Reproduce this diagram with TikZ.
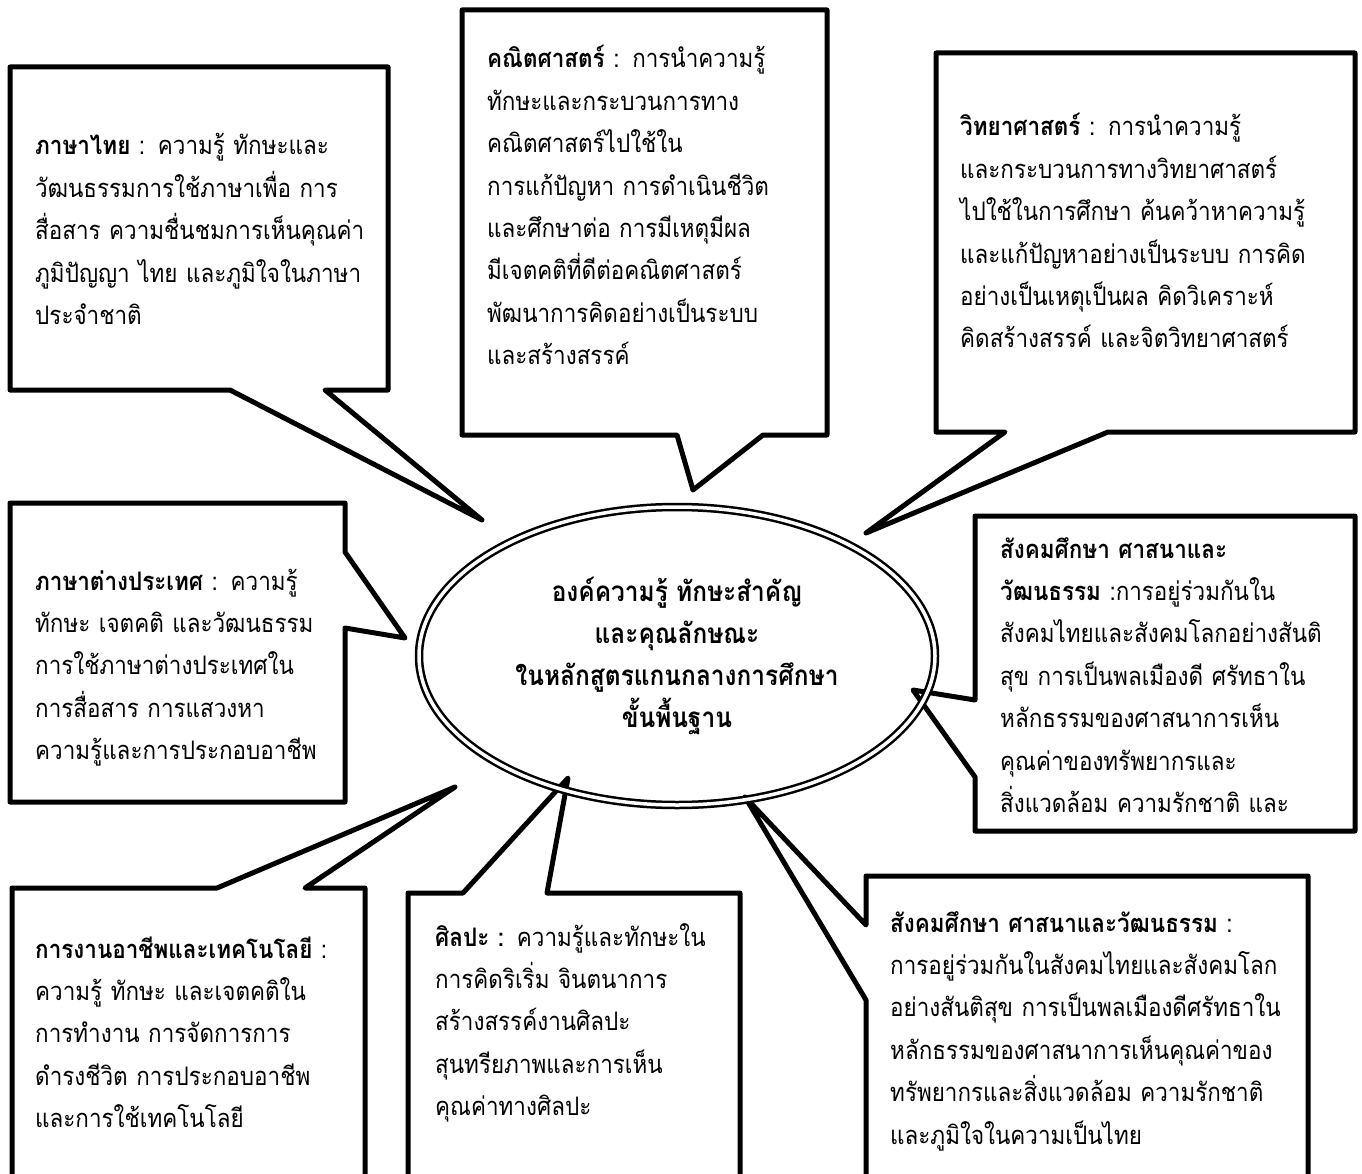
\documentclass[tikz,border=0pt]{standalone}
\usepackage{fontspec}
\setmainfont[Script=Thai, FakeStretch=0.88]{Loma}
\usetikzlibrary{shapes.geometric}
\tikzset{%
  bubble/.style={draw=black, line width=5pt, line join=round, fill=white},
  bubbletext/.style={anchor=base west, inner sep=0pt, align=left, text width=#1,
                     font=\fontsize{25.5}{42.4}\selectfont},
  core/.style={ellipse, draw=black, double, line width=2.5pt, double distance=3.5pt,
               minimum width=516pt, minimum height=298pt, align=center,
               font=\fontsize{27.8}{42.2}\selectfont\bfseries},
}

\begin{document}
\begin{tikzpicture}[x=1pt,y=-1pt]
  \clip (0,0) rectangle (1362,1174);
  % tips of the callouts
  \coordinate (thaiTip) at (482,520);
  \coordinate (mathTip) at (693,490);
  \coordinate (sciTip) at (866,533);
  \coordinate (forTip) at (405,638);
  \coordinate (socTip) at (913,690);
  \coordinate (jobTip) at (455,787);
  \coordinate (artTip) at (568,778);
  \coordinate (socbTip) at (745,797);
  % callouts
  \draw[bubble] (10,67) -- (388,67) -- (388,390) -- (325,390) -- (thaiTip) -- (230,390) -- (10,390) -- cycle;
  \draw[bubble] (462,10) -- (827,10) -- (827,435) -- (763,435) -- (mathTip) -- (677,435) -- (462,435) -- cycle;
  \draw[bubble] (936,53) -- (1355,53) -- (1355,432) -- (1108,432) -- (sciTip) -- (1005,432) -- (936,432) -- cycle;
  \draw[bubble] (10,503) -- (345,503) -- (345,552) -- (forTip) -- (345,628) -- (345,802) -- (10,802) -- cycle;
  \draw[bubble] (975,516) -- (1355,516) -- (1355,831) -- (975,831) -- (975,777) -- (socTip) -- (975,700) -- cycle;
  \draw[bubble] (12,888) -- (217,888) -- (jobTip) -- (305,888) -- (365,888) -- (365,1190) -- (12,1190) -- cycle;
  \draw[bubble] (408,893) -- (463,893) -- (artTip) -- (547,893) -- (740,893) -- (740,1190) -- (408,1190) -- cycle;
  \draw[bubble] (866,876) -- (1308,876) -- (1308,1190) -- (866,1190) -- (866,1000) -- (socbTip) -- (866,925) -- cycle;
  % texts
  \node[bubbletext=450pt] (thai) at (35,155) {\textbf{ภาษาไทย} : ความรู้ ทักษะและ\\
    วัฒนธรรมการใช้ภาษาเพื่อ การ\\
    สื่อสาร ความชื่นชมการเห็นคุณค่า\\
    ภูมิปัญญา ไทย และภูมิใจในภาษา\\
    ประจำชาติ};
  \node[bubbletext=450pt] (math) at (487,68) {\textbf{คณิตศาสตร์} : การนำความรู้\\
    ทักษะและกระบวนการทาง\\
    คณิตศาสตร์ไปใช้ใน\\
    การแก้ปัญหา การดำเนินชีวิต\\
    และศึกษาต่อ การมีเหตุมีผล\\
    มีเจตคติที่ดีต่อคณิตศาสตร์\\
    พัฒนาการคิดอย่างเป็นระบบ\\
    และสร้างสรรค์};
  \node[bubbletext=450pt] (sci) at (960,136) {\textbf{วิทยาศาสตร์} : การนำความรู้\\
    และกระบวนการทางวิทยาศาสตร์\\
    ไปใช้ในการศึกษา ค้นคว้าหาความรู้\\
    และแก้ปัญหาอย่างเป็นระบบ การคิด\\
    อย่างเป็นเหตุเป็นผล คิดวิเคราะห์\\
    คิดสร้างสรรค์ และจิตวิทยาศาสตร์};
  \node[bubbletext=450pt] (foreign) at (35,590) {\textbf{ภาษาต่างประเทศ} : ความรู้\\
    ทักษะ เจตคติ และวัฒนธรรม\\
    การใช้ภาษาต่างประเทศใน\\
    การสื่อสาร การแสวงหา\\
    ความรู้และการประกอบอาชีพ};
  \node[bubbletext=450pt] (social) at (1000,558) {\textbf{สังคมศึกษา ศาสนาและ}\\
    \textbf{วัฒนธรรม} :การอยู่ร่วมกันใน\\
    สังคมไทยและสังคมโลกอย่างสันติ\\
    สุข การเป็นพลเมืองดี ศรัทธาใน\\
    หลักธรรมของศาสนาการเห็น\\
    คุณค่าของทรัพยากรและ\\
    สิ่งแวดล้อม ความรักชาติ และ};
  \node[bubbletext=450pt] (career) at (35,958) {\textbf{การงานอาชีพและเทคโนโลยี} :\\
    ความรู้ ทักษะ และเจตคติใน\\
    การทำงาน การจัดการการ\\
    ดำรงชีวิต การประกอบอาชีพ\\
    และการใช้เทคโนโลยี};
  \node[bubbletext=450pt] (arts) at (435,946) {\textbf{ศิลปะ :} ความรู้และทักษะใน\\
    การคิดริเริ่ม จินตนาการ\\
    สร้างสรรค์งานศิลปะ\\
    สุนทรียภาพและการเห็น\\
    คุณค่าทางศิลปะ};
  \node[bubbletext=450pt] (socialb) at (890,932) {\textbf{สังคมศึกษา ศาสนาและวัฒนธรรม} :\\
    การอยู่ร่วมกันในสังคมไทยและสังคมโลก\\
    อย่างสันติสุข การเป็นพลเมืองดีศรัทธาใน\\
    หลักธรรมของศาสนาการเห็นคุณค่าของ\\
    ทรัพยากรและสิ่งแวดล้อม ความรักชาติ\\
    และภูมิใจในความเป็นไทย};
  % centre
  \node[core] (core) at (677,656) {องค์ความรู้ ทักษะสำคัญ\\
    และคุณลักษณะ\\
    ในหลักสูตรแกนกลางการศึกษา\\
    ขั้นพื้นฐาน};
\end{tikzpicture}
\end{document}
